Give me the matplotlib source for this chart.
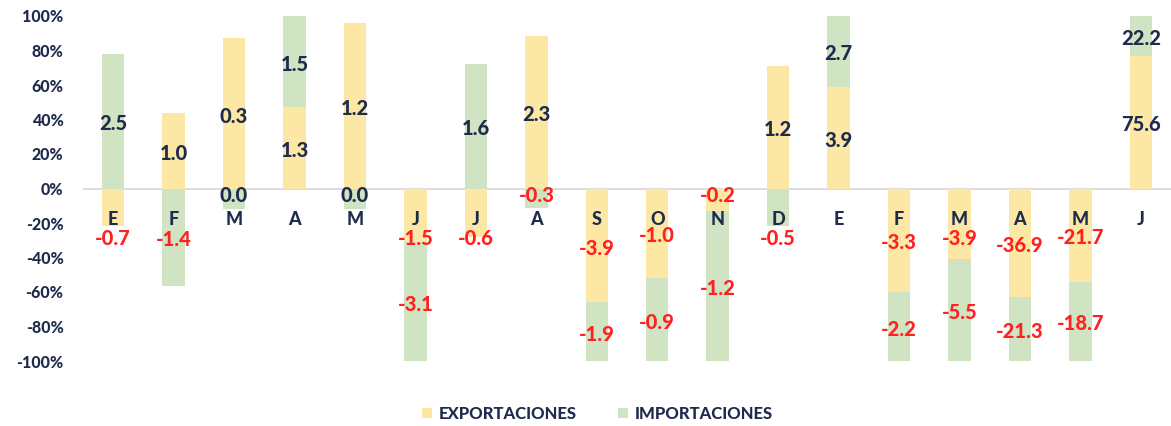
import numpy as np
import matplotlib
matplotlib.use("Agg")
import matplotlib.pyplot as plt
from matplotlib.patches import Patch

plt.rcParams['font.family'] = ['Lato', 'DejaVu Sans']
plt.rcParams['font.weight'] = 'bold'

# month initials (two years, Jan..Dec then Jan..Jun)
months = ['E', 'F', 'M', 'A', 'M', 'J', 'J', 'A', 'S', 'O', 'N', 'D',
          'E', 'F', 'M', 'A', 'M', 'J']

# share of each bar in the 100% stacked view (%)
export_share = [-22, 43.5, 87, 47, 96, -31, -28, 88.5, -66, -52, -13, 71,
                59, -60, -41, -63, -54, 77]
import_share = [78, -56.5, -12, 53, -12, -69, 72, -11.5, -34, -48, -87, -22,
                41, -40, -59, -37, -46, 23]

# values printed on the bars
export_vals = [-0.7, 1.0, 0.3, 1.3, 1.2, -1.5, -0.6, 2.3, -3.9, -1.0, -0.2, 1.2,
               3.9, -3.3, -3.9, -36.9, -21.7, 75.6]
import_vals = [2.5, -1.4, 0.0, 1.5, 0.0, -3.1, 1.6, -0.3, -1.9, -0.9, -1.2, -0.5,
               2.7, -2.2, -5.5, -21.3, -18.7, 22.2]

YELLOW = '#FCE8A4'
GREEN = '#D0E4C3'
NAVY = '#1F2B4D'
RED = '#FF2020'

fig = plt.figure(figsize=(11.71, 4.26), dpi=100)
ax = fig.add_axes([83 / 1171, 1 - 361 / 426, 1 - 83 / 1171, (361 - 16) / 426])
ax.set_axisbelow(False)

x = np.arange(len(months))
exp = np.array(export_share, dtype=float)
imp = np.array(import_share, dtype=float)

# stack positives upward and negatives downward from zero
exp_bottom = np.zeros_like(exp)
imp_bottom = np.where(np.sign(imp) == np.sign(exp), exp, 0.0)

w = 0.37
ax.bar(x, exp, w, bottom=exp_bottom, color=YELLOW, zorder=2)
ax.bar(x, imp, w, bottom=imp_bottom, color=GREEN, zorder=2)

ax.axhline(0, color='#D9D9D9', lw=1.3, zorder=1)


def put_label(xi, bottom, h, val):
    yc = bottom + h / 2 - 1.5
    if -10 < yc < 0:
        # tiny segment under the zero line: keep label just below it
        yc = -4
    elif -25 < yc <= -10:
        # move labels out of the band where month names sit
        yc = -29
    txt = f'{val:.1f}'
    color = RED if val < 0 else NAVY
    ax.text(xi, yc, txt, ha='center', va='center', fontsize=14.5,
            fontweight='black', color=color, zorder=4)


for i in range(len(months)):
    put_label(x[i], exp_bottom[i], exp[i], export_vals[i])
    put_label(x[i], imp_bottom[i], imp[i], import_vals[i])

ax.set_xlim(-0.5, len(months) - 0.5)
ax.set_ylim(-100, 100)
ax.set_yticks(np.arange(-100, 101, 20))
ax.set_yticklabels([f'{v}%' for v in range(-100, 101, 20)], color=NAVY,
                   fontsize=11.5, fontweight='black')

ax.spines['bottom'].set_position(('data', 0))
for s in ['top', 'right', 'left', 'bottom']:
    ax.spines[s].set_visible(False)
ax.set_xticks(x)
ax.set_xticklabels(months, color=NAVY, fontsize=13, fontweight='black')
ax.tick_params(axis='x', length=0, pad=16)
ax.tick_params(axis='y', length=0, pad=14)
ax.xaxis.set_zorder(5)

handles = [Patch(facecolor=YELLOW, label='EXPORTACIONES'),
           Patch(facecolor=GREEN, label='IMPORTACIONES')]
leg = fig.legend(handles=handles, loc='center', bbox_to_anchor=(0.51, 0.028),
                 ncol=2, frameon=False, fontsize=12, handlelength=0.6,
                 handleheight=0.6, handletextpad=0.4, columnspacing=2.5)
for t in leg.get_texts():
    t.set_color(NAVY)
    t.set_fontweight('black')

fig.savefig('out.png', dpi=100)
